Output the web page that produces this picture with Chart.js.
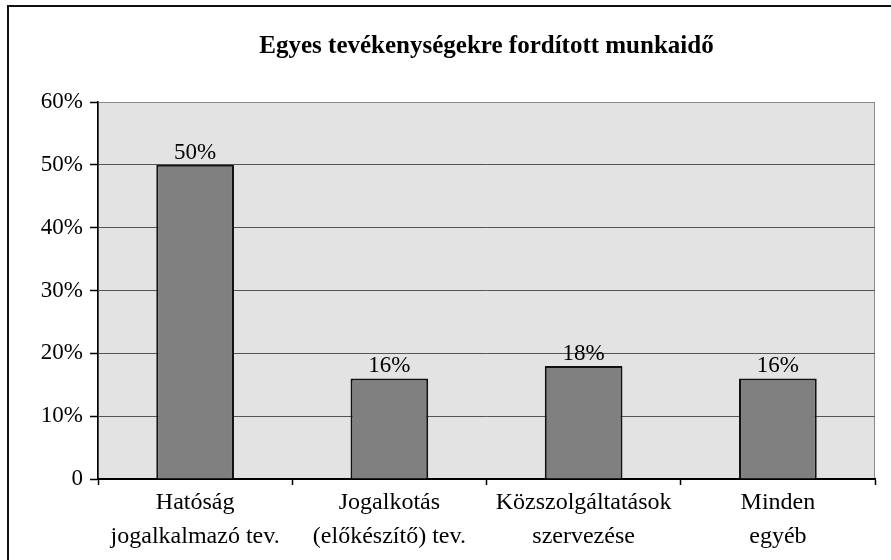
<!DOCTYPE html>
<html>
<head>
<meta charset="utf-8">
<script src="https://cdn.jsdelivr.net/npm/chart.js@4.4.0/dist/chart.umd.min.js"></script>
<style>
  body { margin: 0; background: #fff; }
  #wrap { position: relative; width: 891px; height: 560px; overflow: hidden; }
  #frame { position: absolute; left: 7px; top: 5px; width: 1000px; height: 1000px;
           border-left: 2px solid #111; border-top: 2px solid #111; }
  canvas { position: absolute; left: 0; top: 0; }
</style>
</head>
<body>
<div id="wrap">
  <div id="frame"></div>
  <canvas id="chart" width="891" height="560"></canvas>
</div>
<script>
const titleText = "Egyes tevékenységekre fordított munkaidő";
const categories = [
  ["Hatóság", "jogalkalmazó tev."],
  ["Jogalkotás", "(előkészítő) tev."],
  ["Közszolgáltatások", "szervezése"],
  ["Minden", "egyéb"]
];
const values = [50, 16, 18, 16];
const yTickLabels = ["0", "10%", "20%", "30%", "40%", "50%", "60%"];

const fontFamily = "'Liberation Serif', 'DejaVu Serif', serif";

// grey plot background + thin border
const plotBg = {
  id: "plotBg",
  beforeDraw(chart) {
    const { ctx, chartArea: a } = chart;
    ctx.save();
    ctx.fillStyle = "#e3e3e3";
    ctx.fillRect(a.left, a.top, a.right - a.left, a.bottom - a.top);
    ctx.strokeStyle = "#8a8a8a";
    ctx.lineWidth = 1;
    ctx.strokeRect(a.left + 0.5, a.top + 0.5, a.right - a.left - 1, a.bottom - a.top);
    ctx.restore();
  }
};

// title centred over plot area
const plotTitle = {
  id: "plotTitle",
  afterDraw(chart) {
    const { ctx, chartArea: a } = chart;
    ctx.save();
    ctx.font = "bold 25px " + fontFamily;
    ctx.fillStyle = "#000";
    ctx.textAlign = "center";
    ctx.textBaseline = "alphabetic";
    ctx.fillText(titleText, (a.left + a.right) / 2, 53);
    ctx.restore();
  }
};

// value labels above bars
const barLabels = {
  id: "barLabels",
  afterDatasetsDraw(chart) {
    const { ctx } = chart;
    const meta = chart.getDatasetMeta(0);
    ctx.save();
    ctx.font = "23px " + fontFamily;
    ctx.fillStyle = "#000";
    ctx.textAlign = "center";
    ctx.textBaseline = "alphabetic";
    meta.data.forEach((bar, i) => {
      ctx.fillText(values[i] + "%", bar.x, bar.y - 6);
    });
    ctx.restore();
  }
};

new Chart(document.getElementById("chart").getContext("2d"), {
  type: "bar",
  data: {
    labels: categories,
    datasets: [{
      data: values,
      backgroundColor: "#808080",
      borderColor: "#111",
      borderWidth: 2,
      barPercentage: 0.4,
      categoryPercentage: 1.0
    }]
  },
  options: {
    responsive: false,
    animation: false,
    layout: { padding: { top: 102, right: 16, left: 0, bottom: 0 } },
    plugins: {
      legend: { display: false },
      tooltip: { enabled: false },
      title: { display: false }
    },
    scales: {
      x: {
        offset: true,
        grid: {
          offset: true,
          drawOnChartArea: false,
          drawTicks: true,
          tickLength: 6,
          tickColor: "#000",
          tickWidth: 1.5
        },
        border: { color: "#000", width: 2 },
        ticks: {
          color: "#000",
          font: { family: fontFamily, size: 24, lineHeight: 1.4 },
          padding: 1,
          maxRotation: 0,
          autoSkip: false
        },
        afterFit(scale) { scale.height = 81; }
      },
      y: {
        min: 0,
        max: 60,
        ticks: {
          stepSize: 10,
          color: "#000",
          padding: 7,
          font: { family: fontFamily, size: 23 },
          callback: (v, i) => yTickLabels[i]
        },
        grid: {
          color: (c) => (c.tick && c.tick.value === 60 ? "rgba(0,0,0,0)" : "#555"),
          lineWidth: 1,
          tickLength: 8,
          tickColor: "#000",
          tickWidth: 1.5
        },
        border: { color: "#000", width: 1.5 },
        afterFit(scale) { scale.width = 98; }
      }
    }
  },
  plugins: [plotBg, plotTitle, barLabels]
});
</script>
</body>
</html>
